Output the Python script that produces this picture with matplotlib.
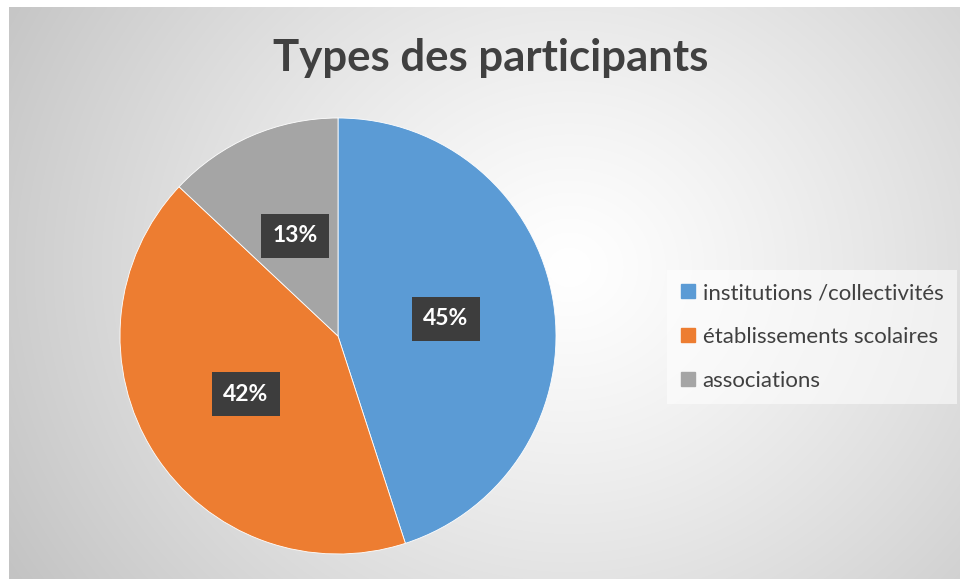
import numpy as np
import matplotlib.pyplot as plt
from matplotlib.lines import Line2D

W, H = 960, 579

categories = ['institutions /collectivités', 'établissements scolaires', 'associations']
values = [45, 42, 13]
colors = ['#5b9bd5', '#ed7d31', '#a5a5a5']
title = 'Types des participants'

plt.rcParams['font.family'] = ['Lato', 'DejaVu Sans']

fig = plt.figure(figsize=(W / 100, H / 100), dpi=100)
fig.patch.set_facecolor('white')

# background with radial gradient (Excel style)
bg = fig.add_axes([9 / W, 0, 1 - 9 / W, (H - 7) / H])
bg.set_axis_off()
yy, xx = np.mgrid[0:H - 7, 0:W - 9]
d = np.sqrt(((xx - 560) / 620) ** 2 + ((yy - 260) / 560) ** 2)
shade = 1.0 - 0.22 * np.clip(d, 0, 1.1) ** 1.2
img = np.dstack([shade, shade, shade])
bg.imshow(img, extent=[0, 1, 0, 1], origin='upper', aspect='auto')
bg.set_xlim(0, 1)
bg.set_ylim(0, 1)

# pie
cx, cy, r = 338, 336, 218
ax = fig.add_axes([(cx - r) / W, (H - cy - r) / H, 2 * r / W, 2 * r / H])
wedges, texts = ax.pie(values, colors=colors, startangle=90, counterclock=False,
                       radius=1, labels=[f'{v}%' for v in values], labeldistance=0.5,
                       wedgeprops=dict(edgecolor='white', linewidth=0.6))
for t in texts:
    t.set_color('white')
    t.set_fontweight('bold')
    t.set_fontsize(16.5)
    t.set_ha('center')
    t.set_va('center')
    t.set_bbox(dict(boxstyle='square,pad=0.5', facecolor='#3d3d3d', edgecolor='none'))
ax.set_xlim(-1, 1)
ax.set_ylim(-1, 1)
ax.set_aspect('auto')

fig.text(491 / W, 1 - 58 / H, title, ha='center', va='center', fontsize=31.5,
         fontweight='bold', color='#404040')

handles = [Line2D([], [], marker='s', linestyle='none', markersize=10,
                  markerfacecolor=c, markeredgecolor=c) for c in colors]
leg = fig.legend(handles, categories, loc='center left',
                 bbox_to_anchor=(667 / W, 1 - 337 / H), fontsize=16,
                 frameon=True, fancybox=False, labelspacing=1.07,
                 handlelength=0.7, handletextpad=0.3, borderpad=0.6,
                 borderaxespad=0, labelcolor='#404040')
leg.get_frame().set_facecolor('white')
leg.get_frame().set_alpha(0.55)
leg.get_frame().set_edgecolor('none')

fig.savefig('out.png', dpi=100)
